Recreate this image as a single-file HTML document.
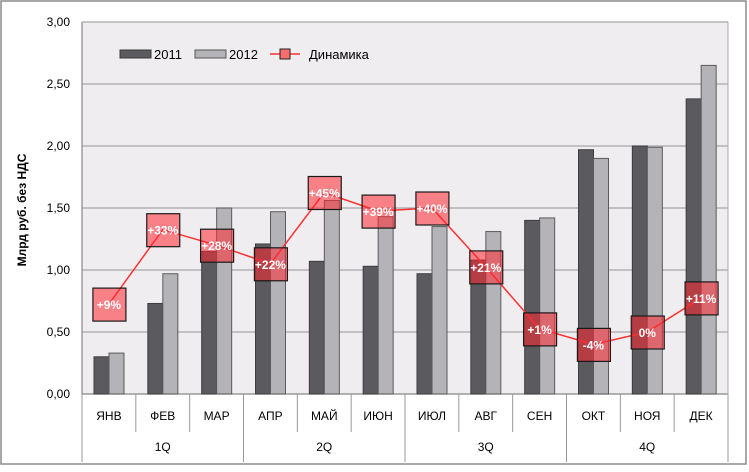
<!DOCTYPE html>
<html><head><meta charset="utf-8"><style>
body{margin:0;background:#fff}
svg text{font-family:"Liberation Sans","DejaVu Sans",sans-serif}
</style></head><body>
<svg width="749" height="467" xmlns="http://www.w3.org/2000/svg">
<rect x="1" y="1" width="745" height="463" fill="#fff" stroke="#8c8c8c" stroke-width="1.5"/>
<rect x="82" y="22" width="646" height="372" fill="#efedf0"/>
<g id="grid"></g><g id="bars"></g><g id="line"></g><g id="axes"></g>
<g font-size="13">
<rect x="120" y="50" width="31" height="8" fill="#5b5a5e" stroke="#3a3a3a"/>
<text x="154" y="59">2011</text>
<rect x="195" y="50" width="31" height="8" fill="#b4b3b8" stroke="#555"/>
<text x="229" y="59">2012</text>
<line x1="270" y1="54" x2="300" y2="54" stroke="#ff3030" stroke-width="1.5"/>
<rect x="280" y="49" width="10" height="10" fill="#f76e6e" stroke="#222"/>
<text x="309" y="59">Динамика</text>
</g>
<text transform="translate(26,210) rotate(-90)" text-anchor="middle" font-size="12" font-weight="bold">Млрд руб. без НДС</text>
</svg>
<script>
const months=["ЯНВ","ФЕВ","МАР","АПР","МАЙ","ИЮН","ИЮЛ","АВГ","СЕН","ОКТ","НОЯ","ДЕК"];
const quarters=["1Q","2Q","3Q","4Q"];
const v2011=[0.30,0.73,1.15,1.21,1.07,1.03,0.97,1.08,1.40,1.97,2.00,2.38];
const v2012=[0.33,0.97,1.50,1.47,1.56,1.43,1.35,1.31,1.42,1.90,1.99,2.65];
const growth=[9,33,28,22,45,39,40,21,1,-4,0,11];
const yTicks=[0,0.5,1,1.5,2,2.5,3];
const NS="http://www.w3.org/2000/svg";
const X0=82,CW=(728-82)/12,Y0=394,H=372;
const y=v=>Y0-v/3*H;
const y2=p=>Y0-(p+20)/120*H;
function mk(t,a,p){const e=document.createElementNS(NS,t);for(const k in a)e.setAttribute(k,a[k]);p.appendChild(e);return e;}
const grid=document.getElementById('grid'),bars=document.getElementById('bars'),line=document.getElementById('line'),axes=document.getElementById('axes');
yTicks.forEach(t=>{
 const l=mk('line',{x1:X0,x2:728,y1:y(t),y2:y(t),stroke:t===0?'#888':'#a6a6a6','stroke-width':1.2},grid);
 
 
 const tx=mk('text',{x:70,y:y(t)+4,'text-anchor':'end','font-size':12},axes);
 tx.textContent=t.toFixed(2).replace('.',',');
 
 
});
mk('line',{x1:X0,x2:X0,y1:22,y2:Y0,stroke:'#888','stroke-width':1.2},axes);
mk('line',{x1:728,x2:728,y1:22,y2:Y0,stroke:'#aaa','stroke-width':1},axes);
months.forEach((m,i)=>{
 const cx=X0+i*CW;
 let b=mk('rect',{x:cx+12,y:y(v2011[i]),width:15,height:Y0-y(v2011[i]),fill:'#5b5a5e',stroke:'#3e3e40'},bars);
 
 
 b=mk('rect',{x:cx+27,y:y(v2012[i]),width:15,height:Y0-y(v2012[i]),fill:'#b4b3b8',stroke:'#5a5a5a'},bars);
 
 
 const t=mk('text',{x:cx+CW/2,y:420,'text-anchor':'middle','font-size':12},axes);
 t.textContent=m;
 
 
 const sep=i%3===0?462:432;
 mk('line',{x1:cx,x2:cx,y1:Y0,y2:sep,stroke:'#999'},axes);
});
mk('line',{x1:728,x2:728,y1:Y0,y2:462,stroke:'#999'},axes);
quarters.forEach((q,i)=>{
 const t=mk('text',{x:X0+(i*3+1.5)*CW,y:451,'text-anchor':'middle','font-size':12},axes);
 t.textContent=q;
 
 
});
const pts=growth.map((g,i)=>(X0+(i+0.5)*CW)+','+y2(g)).join(' ');
const pl=mk('polyline',{points:pts,fill:'none',stroke:'#ff3030','stroke-width':1.5},line);


growth.forEach((g,i)=>{
 const cx=X0+(i+0.5)*CW,cy=y2(g);
 const r=mk('rect',{x:cx-16,y:cy-16,width:33,height:33,fill:'rgba(255,40,50,0.55)',stroke:'#1a1a1a','stroke-width':1.2},line);
 
 
 const t=mk('text',{x:cx,y:cy+5,'text-anchor':'middle','font-size':12,'font-weight':'bold',fill:'#fff'},line);
 t.textContent=(g>0?'+':'')+g+'%';
 
 
});
</script>
</body></html>
